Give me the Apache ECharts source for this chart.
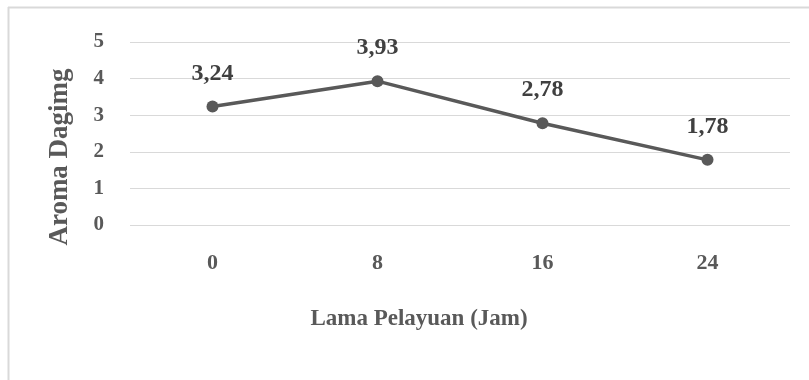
<!DOCTYPE html>
<html>
<head>
<meta charset="utf-8">
<script src="https://cdn.jsdelivr.net/npm/echarts@6/dist/echarts.min.js"></script>
<style>
  html, body { margin: 0; padding: 0; background: #ffffff; }
  #chart { width: 809px; height: 380px; }
</style>
</head>
<body>
<div id="chart"></div>
<script>
// Lama pelayuan (jam) vs skor aroma daging
const categories = ['0', '8', '16', '24'];
const aromaScores = [3.24, 3.93, 2.78, 1.78];
const yTicks = [0, 1, 2, 3, 4, 5];

const textColor = '#595959';
const serif = '"Liberation Serif", "Times New Roman", serif';

const chart = echarts.init(document.getElementById('chart'));
chart.setOption({
  backgroundColor: '#ffffff',
  animation: false,
  grid: { left: 130, right: 19, top: 42, bottom: 155, containLabel: false },
  xAxis: {
    type: 'category',
    data: categories,
    boundaryGap: true,
    axisLine: { show: false },
    axisTick: { show: false },
    axisLabel: {
      color: textColor, fontFamily: serif, fontWeight: 'bold', fontSize: 22, margin: 27
    }
  },
  yAxis: {
    type: 'value',
    min: yTicks[0],
    max: yTicks[yTicks.length - 1],
    interval: 1,
    axisLine: { show: false },
    axisTick: { show: false },
    axisLabel: {
      color: textColor, fontFamily: serif, fontWeight: 'bold', fontSize: 21, margin: 26
    },
    splitLine: { lineStyle: { color: '#d9d9d9', width: 1 } }
  },
  graphic: [
    // chart frame (left and top edges)
    { type: 'line', shape: { x1: 8.5, y1: 7, x2: 8.5, y2: 380 }, style: { stroke: '#d9d9d9', lineWidth: 2 } },
    { type: 'line', shape: { x1: 8, y1: 7.5, x2: 809, y2: 7.5 }, style: { stroke: '#d9d9d9', lineWidth: 2 } },
    // axis titles
    {
      type: 'text', x: 60, y: 157, rotation: Math.PI / 2,
      style: {
        text: 'Aroma Dagimg', fill: textColor, font: 'bold 27px ' + serif,
        textAlign: 'center', textVerticalAlign: 'middle'
      }
    },
    {
      type: 'text', x: 419, y: 319,
      style: {
        text: 'Lama Pelayuan (Jam)', fill: textColor, font: 'bold 23px ' + serif,
        textAlign: 'center', textVerticalAlign: 'middle'
      }
    }
  ],
  series: [{
    type: 'line',
    data: aromaScores,
    symbol: 'circle',
    symbolSize: 12,
    lineStyle: { color: '#595959', width: 3.5 },
    itemStyle: { color: '#595959' },
    label: {
      show: true,
      position: 'top',
      distance: 15,
      color: '#404040',
      fontFamily: serif,
      fontWeight: 'bold',
      fontSize: 24,
      formatter: p => p.value.toFixed(2).replace('.', ',')
    }
  }]
});
</script>
</body>
</html>
